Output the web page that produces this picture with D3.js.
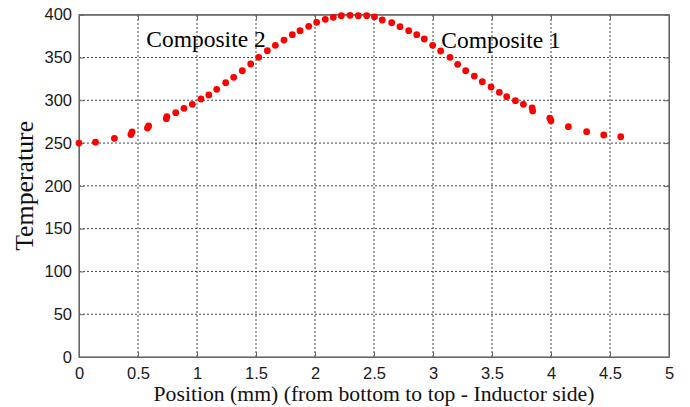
<!DOCTYPE html>
<html>
<head>
<meta charset="utf-8">
<script src="https://cdn.jsdelivr.net/npm/d3@7"></script>
<style>
  body { margin: 0; background: #fff; }
  svg { display: block; }
</style>
</head>
<body>
<div id="chart"></div>
<script>
(function () {

	"use strict";

	// position along the sample (mm)
	var positions = [
		0, 0.14, 0.30, 0.44, 0.45, 0.58, 0.59, 0.74, 0.745, 0.82, 0.89, 0.96,
		1.034, 1.10, 1.167, 1.243, 1.311, 1.384, 1.455, 1.523, 1.596, 1.664,
		1.737, 1.808, 1.873, 1.947, 2.014, 2.087, 2.155, 2.223, 2.297, 2.367,
		2.438, 2.504, 2.57, 2.65, 2.72, 2.794, 2.862, 2.926, 2.997, 3.065,
		3.144, 3.209, 3.277, 3.35, 3.418, 3.492, 3.562, 3.625, 3.698, 3.766,
		3.84, 3.845, 3.99, 4.0, 4.147, 4.302, 4.447, 4.591
	];

	// temperature at each position
	var temperatures = [
		250, 251, 255.5, 260, 263, 267.5, 270, 278.5, 281, 285.5, 290.6, 295.3,
		301.5, 306.2, 312.8, 320.5, 326.8, 334.5, 342.4, 350.2, 357.9, 364.2,
		370.4, 376.6, 381.3, 386.4, 391.1, 394.6, 396.9, 398.8, 399.3, 398.8,
		398.8, 397.5, 393.8, 390.6, 386, 381.3, 376.6, 371.6, 364.2, 357.6,
		350.2, 342, 334.5, 328.3, 321.7, 315.5, 309.3, 304.2, 299.5, 295.3,
		291, 287.5, 279, 276, 269.1, 263.3, 259.4, 257.4
	];

	var xTicks = [0, 0.5, 1, 1.5, 2, 2.5, 3, 3.5, 4, 4.5, 5];
	var yTicks = [0, 50, 100, 150, 200, 250, 300, 350, 400];

	// in-plot labels: [text, x in mm, temperature at baseline]
	var annotations = [
		["Composite 2", 0.57, 362],
		["Composite 1", 3.07, 361]
	];

	var width = 690,
		height = 407,
		margin = {top: 14.7, right: 21, bottom: 50, left: 79};

	var svg = d3.select("#chart").append("svg")
		.attr("width", width)
		.attr("height", height);

	var x = d3.scaleLinear().domain([0, 5]).range([margin.left, width - margin.right]);
	var y = d3.scaleLinear().domain([0, 400]).range([height - margin.bottom, margin.top]);

	var x0 = x(0), x1 = x(5), y0 = y(0), y1 = y(400);

	//grid
	svg.append("g").selectAll("line").data(xTicks.slice(1, -1)).enter().append("line")
		.attr("x1", function (d) { return x(d); })
		.attr("x2", function (d) { return x(d); })
		.attr("y1", y0).attr("y2", y1)
		.attr("stroke", "#444").attr("stroke-width", 1)
		.attr("stroke-dasharray", "2,2");

	svg.append("g").selectAll("line").data(yTicks.slice(1, -1)).enter().append("line")
		.attr("x1", x0).attr("x2", x1)
		.attr("y1", function (d) { return y(d); })
		.attr("y2", function (d) { return y(d); })
		.attr("stroke", "#444").attr("stroke-width", 1)
		.attr("stroke-dasharray", "2,2");

	//axes
	var axisFont = "'Liberation Sans', Arial, sans-serif";

	var gx = svg.append("g")
		.attr("transform", "translate(0," + y0 + ")")
		.call(d3.axisBottom(x).tickValues(xTicks).tickSizeInner(-5).tickSizeOuter(0).tickPadding(10)
			.tickFormat(function (d) { return String(d); }));
	var gy = svg.append("g")
		.attr("transform", "translate(" + x0 + ",0)")
		.call(d3.axisLeft(y).tickValues(yTicks).tickSizeInner(-5).tickSizeOuter(0).tickPadding(7));
	svg.append("g")
		.attr("transform", "translate(0," + y1 + ")")
		.call(d3.axisTop(x).tickValues(xTicks).tickSizeInner(-5).tickSizeOuter(0).tickFormat(""));
	svg.append("g")
		.attr("transform", "translate(" + x1 + ",0)")
		.call(d3.axisRight(y).tickValues(yTicks).tickSizeInner(-5).tickSizeOuter(0).tickFormat(""));

	svg.selectAll(".domain").attr("stroke", "#666");
	svg.selectAll(".tick line").attr("stroke", "#666");
	svg.selectAll(".tick text")
		.attr("fill", "#1a1a1a")
		.style("font-family", axisFont)
		.style("font-size", "16.5px");

	//frame
	svg.append("rect")
		.attr("x", x0).attr("y", y1)
		.attr("width", x1 - x0).attr("height", y0 - y1)
		.attr("fill", "none").attr("stroke", "#666").attr("stroke-width", 1.2);

	//points
	var pts = d3.zip(positions, temperatures);
	svg.append("g").selectAll("circle").data(pts).enter().append("circle")
		.attr("cx", function (d) { return x(d[0]); })
		.attr("cy", function (d) { return y(d[1]); })
		.attr("r", 3.4)
		.attr("fill", "#ff0000");

	//labels
	var serif = "'Liberation Serif', 'Times New Roman', serif";

	svg.append("g").selectAll("text").data(annotations).enter().append("text")
		.attr("x", function (d) { return x(d[1]); })
		.attr("y", function (d) { return y(d[2]); })
		.attr("font-family", serif)
		.attr("font-size", "23.5px")
		.attr("fill", "#000")
		.text(function (d) { return d[0]; });

	svg.append("text")
		.attr("x", (x0 + x1) / 2)
		.attr("y", 400.5)
		.attr("text-anchor", "middle")
		.attr("font-family", serif)
		.attr("font-size", "21.7px")
		.attr("fill", "#111")
		.text("Position (mm) (from bottom to top - Inductor side)");

	svg.append("text")
		.attr("transform", "translate(33," + ((y0 + y1) / 2) + ") rotate(-90)")
		.attr("text-anchor", "middle")
		.attr("font-family", serif)
		.attr("font-size", "25.8px")
		.attr("fill", "#111")
		.text("Temperature");

}).call(this);
</script>
</body>
</html>
